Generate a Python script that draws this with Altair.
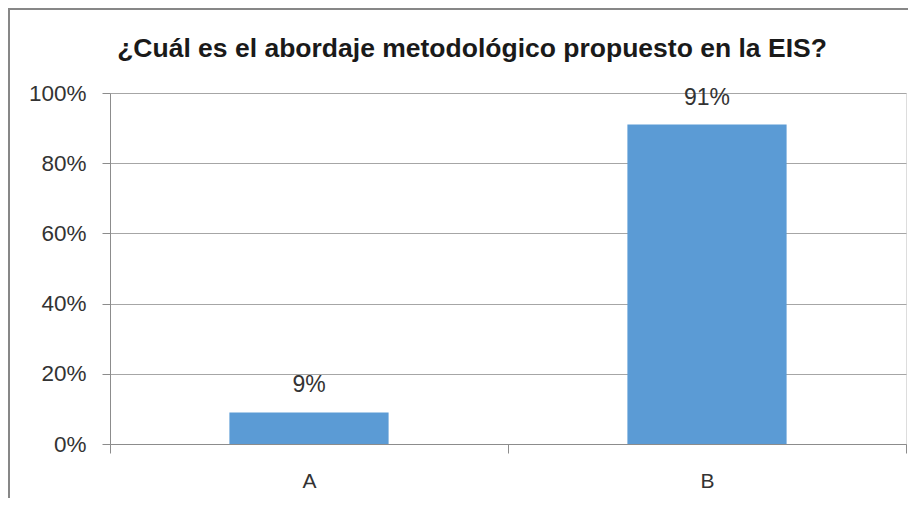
import altair as alt
import pandas as pd

categories = ["A", "B"]
values = [0.09, 0.91]
title_text = "¿Cuál es el abordaje metodológico propuesto en la EIS?"

df = pd.DataFrame({"cat": categories, "val": values})

W, H = 796, 351
PL, PT, PR, PB = 102, 85, 8, 54

base = alt.Chart(df)

x_enc = alt.X(
    "cat:N",
    title=None,
    sort=categories,
    scale=alt.Scale(paddingInner=0, paddingOuter=0),
    axis=alt.Axis(
        labelAngle=0,
        tickBand="extent",
        tickSize=9,
        labelPadding=17,
        domainColor="#8c8c8c",
        tickColor="#8c8c8c",
        labelFont="Liberation Sans",
        labelFontSize=21,
        labelColor="#333333",
        grid=False,
    ),
)

y_enc = alt.Y(
    "val:Q",
    title=None,
    scale=alt.Scale(domain=[0, 1], nice=False),
    axis=alt.Axis(
        values=[0, 0.2, 0.4, 0.6, 0.8, 1.0],
        format=".0%",
        tickSize=8,
        labelPadding=16,
        domainColor="#8c8c8c",
        tickColor="#8c8c8c",
        gridColor="#a6a6a6",
        labelFont="Liberation Sans",
        labelFontSize=22.5,
        labelColor="#333333",
    ),
)

bars = base.mark_bar(color="#5B9BD5", width=alt.RelativeBandSize(0.4)).encode(x=x_enc, y=y_enc)

labels = base.mark_text(
    dy=-20, baseline="alphabetic", align="center",
    font="Liberation Sans", fontSize=23, color="#333333",
).encode(
    x=alt.X("cat:N", sort=categories),
    y="val:Q",
    text=alt.Text("val:Q", format=".0%"),
)

frame_data = alt.Data(values=[{}])
frame_left = alt.Chart(frame_data).mark_rule(
    color="#878787", strokeWidth=2, clip=False
).encode(
    x=alt.value(-101), y=alt.value(-85), y2=alt.value(H + PB),
)
frame_top = alt.Chart(frame_data).mark_rule(
    color="#878787", strokeWidth=2, clip=False
).encode(
    y=alt.value(-84), x=alt.value(-102), x2=alt.value(W + 2),
)

title = alt.Chart(alt.Data(values=[{"t": title_text}])).mark_text(
    font="Liberation Sans", fontSize=26.5, fontWeight="bold", color="#1a1a1a",
    align="center", baseline="alphabetic",
).encode(
    text="t:N",
    x=alt.value(362),
    y=alt.value(-36.5),
)

chart = alt.layer(frame_left, frame_top, bars, labels, title).properties(
    width=W,
    height=H,
    padding={"left": PL, "top": PT, "right": PR, "bottom": PB},
    autosize=alt.AutoSizeParams(type="none"),
).configure_view(stroke=None).configure(background="white")

chart.save("out.html", embed_options={"renderer": "svg", "actions": False})
